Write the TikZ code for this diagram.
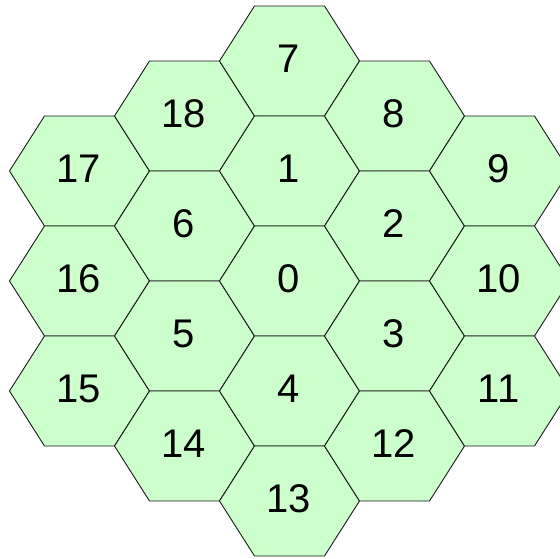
\documentclass[tikz,border=0pt]{standalone}
\usepackage{fontspec}
\setmainfont{Liberation Sans}
\usepackage{xcolor}
\definecolor{mint}{HTML}{CCFFCC}
\tikzset{
  hexcell/.style={draw=black!90,fill=mint,line width=0.9pt,line join=miter},
  hexlabel/.style={font=\fontsize{40}{48}\selectfont,inner sep=0pt}
}
\begin{document}
\begin{tikzpicture}[x=1pt,y=-1pt]
  \useasboundingbox (0,0) rectangle (560,558);
  \clip (0,0) rectangle (560,558);
  % columns left to right, cells top to bottom
  \foreach \cx/\cy/\lbl in {79.5/171/17,79.5/281/16,79.5/391/15,
      184.5/116/18,184.5/226/6,184.5/336/5,184.5/446/14,
      289.5/61/7,289.5/171/1,289.5/281/0,289.5/391/4,289.5/501/13,
      394.5/116/8,394.5/226/2,394.5/336/3,394.5/446/12,
      499.5/171/9,499.5/281/10,499.5/391/11}{
    \draw[hexcell] (\cx-70,\cy) -- (\cx-35,\cy-55) -- (\cx+35,\cy-55)
      -- (\cx+70,\cy) -- (\cx+35,\cy+55) -- (\cx-35,\cy+55) -- cycle;
    \node[hexlabel] (c\lbl) at (\cx-1,\cy-2) {\lbl};
  }
\end{tikzpicture}
\end{document}
